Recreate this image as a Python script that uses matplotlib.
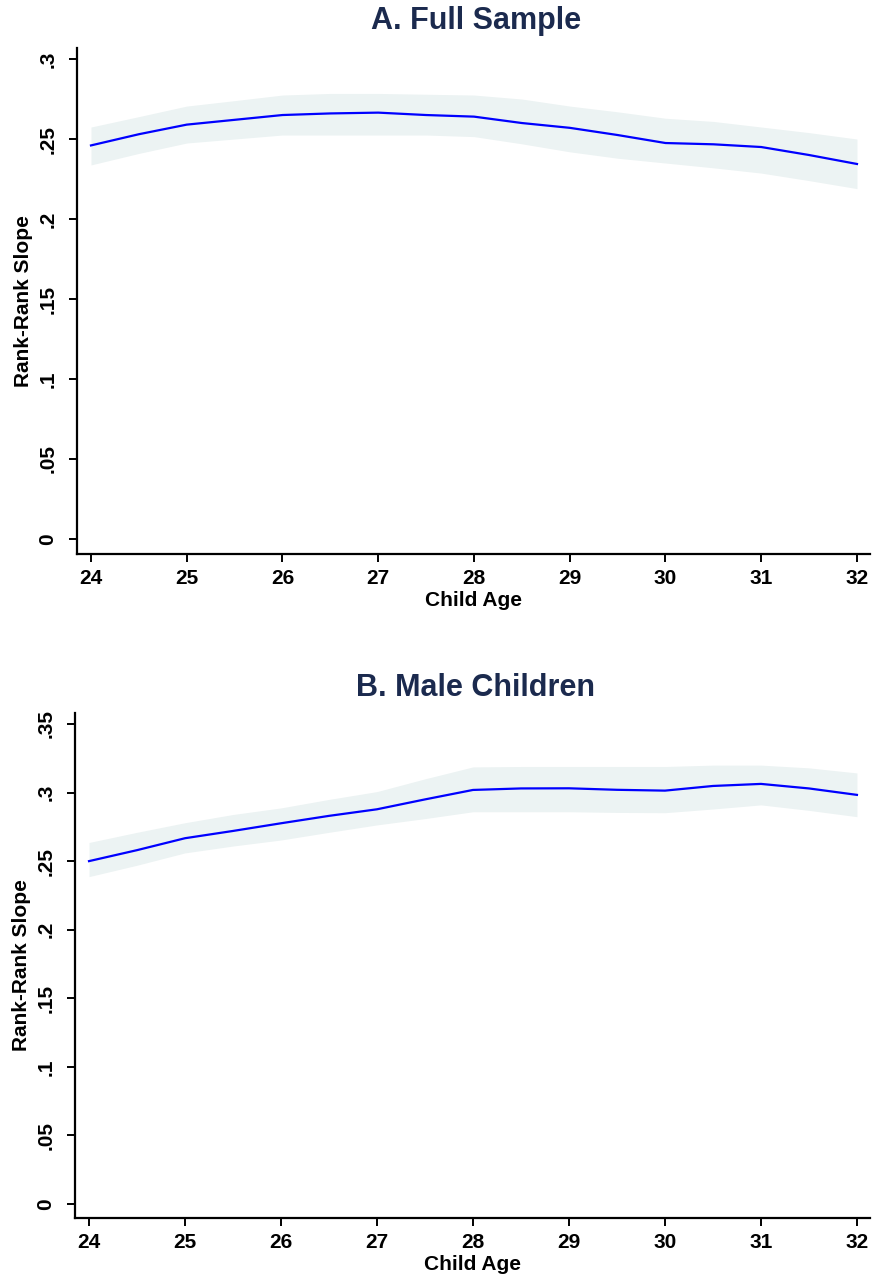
import matplotlib
matplotlib.use("Agg")
import matplotlib.pyplot as plt

# ---- data ----
ages = [24, 24.5, 25, 25.5, 26, 26.5, 27, 27.5, 28, 28.5, 29, 29.5, 30, 30.5, 31, 31.5, 32]

full_slope = [0.246, 0.253, 0.259, 0.262, 0.265, 0.266, 0.2665, 0.265, 0.264, 0.260, 0.257, 0.2525, 0.2475, 0.2467, 0.245, 0.240, 0.2344]
full_upper = [0.2575, 0.264, 0.2706, 0.274, 0.2775, 0.2785, 0.2785, 0.278, 0.2775, 0.275, 0.2706, 0.267, 0.263, 0.261, 0.2575, 0.254, 0.250]
full_lower = [0.2338, 0.241, 0.2475, 0.250, 0.2525, 0.2525, 0.2525, 0.2525, 0.2515, 0.247, 0.2420, 0.238, 0.235, 0.232, 0.2287, 0.224, 0.219]

male_slope = [0.250, 0.258, 0.2667, 0.272, 0.2776, 0.283, 0.2878, 0.295, 0.3019, 0.303, 0.3031, 0.302, 0.3014, 0.3048, 0.3063, 0.303, 0.2983]
male_upper = [0.2636, 0.271, 0.278, 0.284, 0.2888, 0.295, 0.3007, 0.310, 0.3187, 0.319, 0.319, 0.319, 0.319, 0.320, 0.320, 0.318, 0.3143]
male_lower = [0.2387, 0.247, 0.256, 0.261, 0.2654, 0.271, 0.2764, 0.281, 0.286, 0.286, 0.286, 0.2855, 0.2853, 0.288, 0.291, 0.287, 0.2824]

x_ticks = [24, 25, 26, 27, 28, 29, 30, 31, 32]
a_yticks = [0, 0.05, 0.1, 0.15, 0.2, 0.25, 0.3]
a_ylabels = ["0", ".05", ".1", ".15", ".2", ".25", ".3"]
b_yticks = [0, 0.05, 0.1, 0.15, 0.2, 0.25, 0.3, 0.35]
b_ylabels = ["0", ".05", ".1", ".15", ".2", ".25", ".3", ".35"]

titles = ["A. Full Sample", "B. Male Children"]

# ---- style ----
plt.rcParams['font.family'] = ['Liberation Sans', 'DejaVu Sans']
plt.rcParams['font.weight'] = 'bold'

W, H = 873, 1281
fig = plt.figure(figsize=(W / 100, H / 100), dpi=100)

band_color = "#ecf3f3"
line_color = "#0000ff"
title_color = "#1b2a4e"

def px_axes(l, t, r, b):
    return fig.add_axes([l / W, 1 - b / H, (r - l) / W, (b - t) / H])

panels = [
    dict(rect=(77, 48, 870, 554), ylim=(-0.0094, 0.3069), yt=a_yticks, yl=a_ylabels,
         y=full_slope, lo=full_lower, hi=full_upper, title=titles[0], ty=21),
    dict(rect=(75, 713, 870, 1218), ylim=(-0.0102, 0.358), yt=b_yticks, yl=b_ylabels,
         y=male_slope, lo=male_lower, hi=male_upper, title=titles[1], ty=688),
]

for p in panels:
    ax = px_axes(*p["rect"])
    ax.fill_between(ages, p["lo"], p["hi"], color=band_color, linewidth=0, zorder=1)
    ax.plot(ages, p["y"], color=line_color, linewidth=1.6, zorder=2)
    ax.set_xlim(23.854, 32.136)
    ax.set_ylim(*p["ylim"])
    ax.set_xticks(x_ticks)
    ax.set_xticklabels([str(v) for v in x_ticks], fontsize=15, fontweight='bold')
    ax.set_yticks(p["yt"])
    ax.set_yticklabels(p["yl"], fontsize=15, fontweight='bold', rotation=90, va='center')
    for s in ["top", "right"]:
        ax.spines[s].set_visible(False)
    for s in ["left", "bottom"]:
        ax.spines[s].set_linewidth(1.6)
    ax.tick_params(axis='x', direction='out', length=6, width=1.4, pad=5)
    ax.tick_params(axis='y', direction='out', length=6, width=1.4, pad=8)
    ax.set_xlabel("Child Age", fontsize=15, fontweight='bold', labelpad=2)
    ax.set_ylabel("Rank-Rank Slope", fontsize=15, fontweight='bold', labelpad=4)
    fig.text(0.545, 1 - p["ty"] / H, p["title"], ha='center', va='center',
             fontsize=22, fontweight='bold', color=title_color)

fig.savefig("out.png", dpi=100)
